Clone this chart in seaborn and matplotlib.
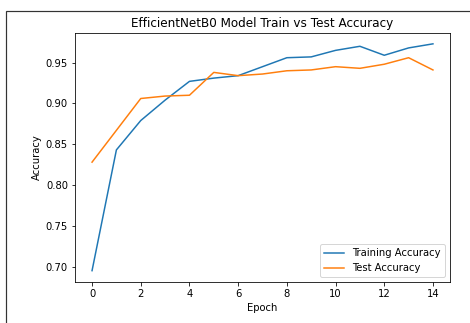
import numpy as np
import pandas as pd
import seaborn as sns
from matplotlib import pyplot as plt
from matplotlib.patches import Rectangle

epochs = list(range(15))
train_acc = [0.695, 0.843, 0.879, 0.904, 0.927, 0.931, 0.934, 0.945, 0.956, 0.957,
             0.965, 0.970, 0.959, 0.968, 0.973]
test_acc = [0.828, 0.867, 0.906, 0.909, 0.910, 0.938, 0.934, 0.936, 0.940, 0.941,
            0.945, 0.943, 0.948, 0.956, 0.941]

df = pd.DataFrame({'Epoch': epochs + epochs,
                   'Accuracy': train_acc + test_acc,
                   'Series': ['Training Accuracy'] * 15 + ['Test Accuracy'] * 15})

fig = plt.figure(figsize=(470 / 72, 323 / 72), dpi=72)
ax = fig.add_axes([75 / 470, 1 - 282 / 323, (450 - 75) / 470, (282 - 32.5) / 323])

sns.lineplot(data=df, x='Epoch', y='Accuracy', hue='Series', ax=ax,
             palette=sns.color_palette('tab10', 2), linewidth=1.5)

ax.set_title('EfficientNetB0 Model Train vs Test Accuracy')
ax.set_xticks(range(0, 15, 2))
ax.set_yticks(np.arange(0.70, 0.951, 0.05))
ax.legend(loc='lower right', title=None)

# screenshot frame
fig.add_artist(Rectangle((6 / 470, -0.1), 2, 1 - 11 / 323 + 0.1,
                         transform=fig.transFigure, fill=False,
                         edgecolor='#333333', linewidth=1.2))

fig.savefig('out.png', dpi=72)
